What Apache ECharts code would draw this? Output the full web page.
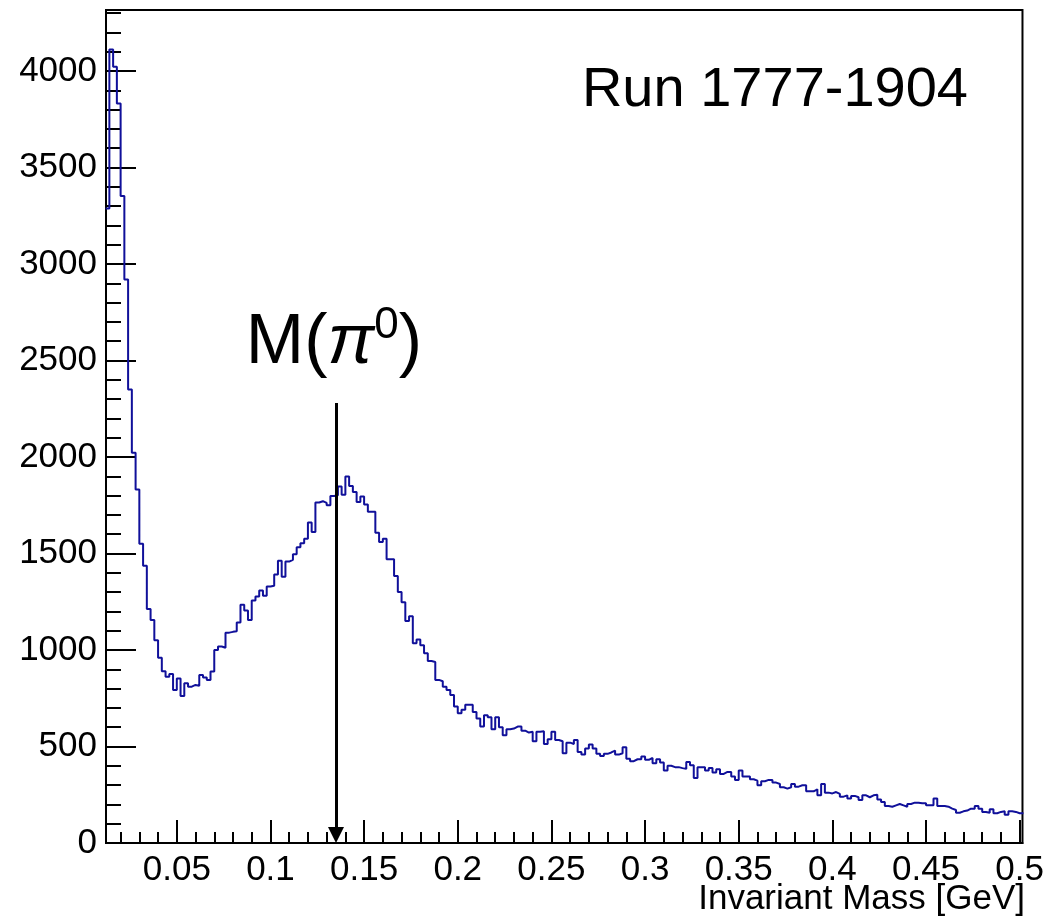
<!DOCTYPE html>
<html>
<head>
<meta charset="utf-8">
<script src="https://cdn.jsdelivr.net/npm/echarts@6/dist/echarts.min.js"></script>
<style>
html,body{margin:0;padding:0;background:#fff;}
#chart{width:1047px;height:919px;}
</style>
</head>
<body>
<div id="chart"></div>
<script>
// ---- data ----
const binLow = 0.012;      // GeV, low edge of first bin
const binWidth = 0.002;    // GeV
const counts = [
3287,4111,4022,3832,3352,2920,2350,2022,1832,1550,
1437,1212,1155,1050,960,890,862,876,793,852,
762,828,810,819,815,871,858,845,888,1000,
1018,1012,1090,1094,1097,1142,1235,1204,1155,1256,
1277,1308,1281,1329,1333,1391,1463,1380,1458,1467,
1496,1532,1553,1577,1660,1612,1764,1771,1762,1750,
1798,1802,1847,1805,1899,1850,1819,1767,1795,1754,
1716,1716,1608,1560,1577,1470,1470,1384,1301,1248,
1150,1175,1035,1054,1025,983,943,938,845,838,
810,793,767,707,672,690,716,716,679,645,
603,662,651,589,651,600,558,589,593,603,
603,582,572,576,527,576,579,513,537,576,
534,527,465,520,513,534,472,458,489,510,
489,462,451,462,469,479,458,465,496,437,
424,434,434,448,431,441,413,434,417,376,
400,393,393,388,384,420,403,337,393,393,
375,389,365,382,358,368,368,344,327,375,
344,344,330,323,299,320,327,327,313,306,
289,282,289,306,292,299,299,268,268,278,
247,306,261,257,264,254,240,247,230,244,
237,223,247,237,247,250,226,213,192,188,
195,202,195,188,202,209,209,206,206,195,
195,230,192,192,188,178,171,157,164,168,
178,178,192,178,161,157,175,154,161,164,
147,164,161,154,154
];
const xMajorTicks = [0.05, 0.1, 0.15, 0.2, 0.25, 0.3, 0.35, 0.4, 0.45, 0.5];
const yMajorTicks = [0, 500, 1000, 1500, 2000, 2500, 3000, 3500, 4000];
const xMin = 0.0122, xMax = 0.5015;
const yMin = 0, yMax = 4316;
const piMass = 0.135;          // GeV, arrow position
const arrowTopValue = 2280;
const arrowTipValue = 42;      // so the arrow tip touches the axis
const titleText = 'Run 1777-1904';
const xTitle = 'Invariant Mass [GeV]';

// ---- build histogram outline (bin edges) ----
const histData = [];
for (let i = 0; i < counts.length; i++) {
  histData.push([+(binLow + i * binWidth).toFixed(4), counts[i]]);
}
histData.push([+(binLow + counts.length * binWidth).toFixed(4), counts[counts.length - 1]]);

const xMinorTicks = [];
for (let k = 2; k <= 50; k++) xMinorTicks.push(+(k * 0.01).toFixed(2));
const yMinorTicks = [];
for (let k = 0; k <= 43; k++) yMinorTicks.push(k * 100);

const FONT = 'Liberation Sans, Arial, Helvetica, sans-serif';
const chart = echarts.init(document.getElementById('chart'), null, {renderer: 'canvas'});

chart.setOption({
  animation: false,
  backgroundColor: '#fff',
  grid: {left: 106, right: 21, top: 10, bottom: 76, show: true, borderColor: '#000', borderWidth: 2, containLabel: false},
  title: {
    text: titleText, right: 74, top: 58,
    textStyle: {fontFamily: FONT, fontSize: 56, fontWeight: 'normal', color: '#000'}
  },
  xAxis: [
    {
      type: 'value', min: xMin, max: xMax, position: 'bottom',
      axisLine: {show: true, lineStyle: {color: '#000', width: 2}},
      axisTick: {show: true, inside: true, length: 23, customValues: xMajorTicks, lineStyle: {color: '#000', width: 2}},
      axisLabel: {show: true, customValues: xMajorTicks, margin: 10, fontFamily: FONT, fontSize: 35, color: '#000',
        formatter: v => String(+(+v).toFixed(2))},
      splitLine: {show: false}
    },
    {
      type: 'value', min: xMin, max: xMax, position: 'bottom',
      axisLine: {show: false},
      axisTick: {show: true, inside: true, length: 11, customValues: xMinorTicks, lineStyle: {color: '#000', width: 2}},
      axisLabel: {show: false},
      splitLine: {show: false}
    }
  ],
  yAxis: [
    {
      type: 'value', min: yMin, max: yMax, position: 'left',
      axisLine: {show: true, lineStyle: {color: '#000', width: 2}},
      axisTick: {show: true, inside: true, length: 30, customValues: yMajorTicks, lineStyle: {color: '#000', width: 2}},
      axisLabel: {show: true, customValues: yMajorTicks, margin: 9, fontFamily: FONT, fontSize: 35, color: '#000',
        formatter: v => String(Math.round(v))},
      splitLine: {show: false}
    },
    {
      type: 'value', min: yMin, max: yMax, position: 'left',
      axisLine: {show: false},
      axisTick: {show: true, inside: true, length: 15, customValues: yMinorTicks, lineStyle: {color: '#000', width: 2}},
      axisLabel: {show: false},
      splitLine: {show: false}
    }
  ],
  graphic: [
    {
      type: 'text', x: 334, y: 344, z: 10,
      style: {
        text: '{a|M(}{p|π}{s|0}{a|)}',
        textAlign: 'center', textVerticalAlign: 'middle',
        fill: '#000',
        rich: {
          a: {fontFamily: FONT, fontSize: 70, fill: '#000', lineHeight: 80},
          p: {fontFamily: FONT, fontSize: 70, fontStyle: 'italic', fill: '#000', lineHeight: 80},
          s: {fontFamily: FONT, fontSize: 44, fill: '#000', verticalAlign: 'top', lineHeight: 80, padding: [0, 0, 28, 0]}
        }
      }
    },
    {
      type: 'text', x: 1025, y: 899, z: 10,
      style: {text: xTitle, textAlign: 'right', textVerticalAlign: 'middle', fontFamily: FONT, fontSize: 35, fill: '#000'}
    }
  ],
  series: [{
    type: 'line', xAxisIndex: 0, yAxisIndex: 0,
    data: histData, step: 'end', showSymbol: false, symbol: 'none', clip: true,
    lineStyle: {color: '#10109a', width: 2},
    markLine: {
      silent: true, symbol: ['none', 'triangle'], symbolSize: 16,
      lineStyle: {color: '#000', width: 3, type: 'solid'},
      itemStyle: {color: '#000'},
      label: {show: false},
      data: [[{coord: [piMass, arrowTopValue]}, {coord: [piMass, arrowTipValue]}]]
    }
  }]
});
</script>
</body>
</html>
